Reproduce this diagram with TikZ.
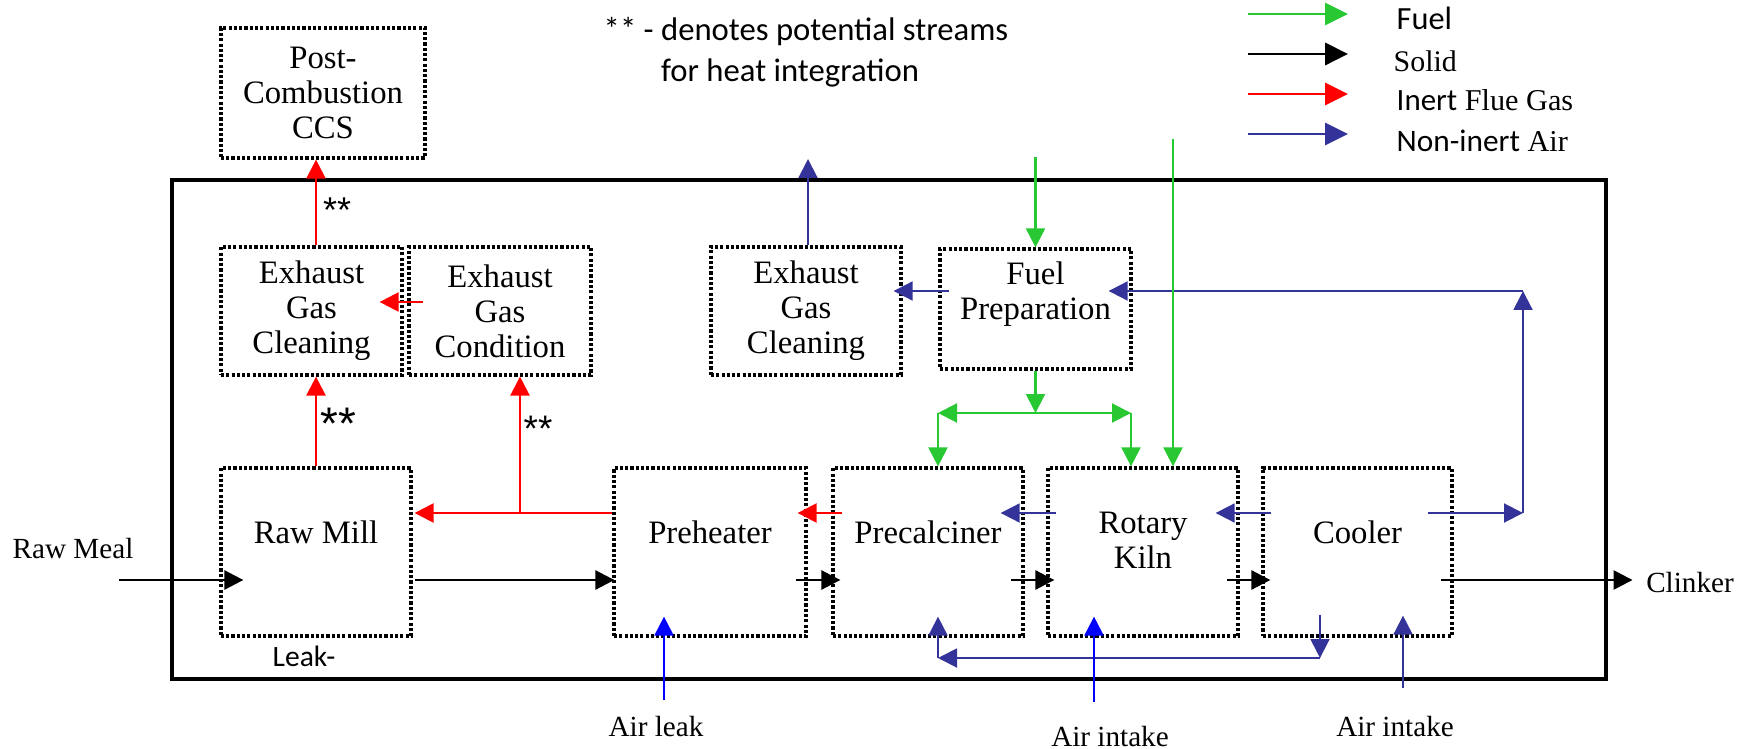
\documentclass[tikz,border=0pt]{standalone}
\usepackage{fontspec}
\setmainfont{Liberation Serif}
\newfontfamily\cali{Carlito}
\newfontfamily\arialfont{Liberation Sans}
\usetikzlibrary{arrows.meta, calc}

\definecolor{fuelgreen}{RGB}{40,200,50}
\definecolor{gasred}{RGB}{255,0,0}
\definecolor{airnavy}{RGB}{51,51,153}
\definecolor{leakblue}{RGB}{0,0,255}

\tikzset{
    unit/.style={draw, line width=0.9pt, dash pattern=on 0.9pt off 0.6pt,
        minimum width=1.9cm, minimum height=1.68cm, inner sep=0pt,
        align=center, font=\fontsize{9.3}{10}\selectfont},
    unittext/.style={align=center, inner sep=0pt, font=\fontsize{9.3}{10}\selectfont},
    outer/.style={inner sep=0pt, font=\fontsize{8.3}{10}\selectfont},
    heatmark/.style={inner sep=0pt, font=\arialfont\fontsize{10.2}{10}\selectfont},
    flow/.style={-{Triangle[length=5.4pt,width=5.4pt]}},
    keytip/.style={-{Triangle[length=6.5pt,width=6.3pt]}},
    solidline/.style={flow, draw=black, line width=0.75pt},
    gasline/.style={flow, draw=gasred, line width=0.7pt},
    fuelline/.style={flow, draw=fuelgreen, line width=0.6pt},
    airline/.style={flow, draw=airnavy, line width=0.55pt},
    leakline/.style={flow, draw=leakblue, line width=0.6pt}
}

\begin{document}
\begin{tikzpicture}[x=0.01cm, y=-0.01cm]
    \useasboundingbox (0,0) rectangle (1752,749);
    % plant boundary
    \draw[line width=1pt] (172,180) rectangle (1606,679);

    % units
    \node[unit, minimum width=2.04cm, minimum height=1.30cm] (ccs) at (323,93) {Post-\\Combustion\\CCS};
    \node[unit, minimum width=1.81cm, minimum height=1.28cm] (egc1) at (311.5,311) {Exhaust\\Gas\\Cleaning};
    \node[unit, minimum width=1.82cm, minimum height=1.28cm] (egcond) at (500,311) {Exhaust\\Gas\\Condition};
    \node[unit, minimum width=1.90cm, minimum height=1.28cm] (egc2) at (806,311) {Exhaust\\Gas\\Cleaning};
    \node[unit, minimum width=1.91cm, minimum height=1.20cm] (fuelprep) at (1035.5,309) {};
    \node[unittext] (fuelpreptext) at (1035.5,294.5) {Fuel\\Preparation};
    \node[unit] (mill) at (316,552) {};
    \node[unittext] (milltext) at (316,532) {Raw Mill};
    \node[unit, minimum width=1.92cm] (preheat) at (710,552) {};
    \node[unittext] (preheattext) at (710,532) {Preheater};
    \node[unit] (precalc) at (928,552) {};
    \node[unittext] (precalctext) at (928,532) {Precalciner};
    \node[unit] (kiln) at (1143,552) {};
    \node[unittext] (kilntext) at (1143,540.5) {Rotary\\Kiln};
    \node[unit, minimum width=1.89cm] (cooler) at (1357.5,552) {};
    \node[unittext] (coolertext) at (1357.5,532) {Cooler};

    % outside labels
    \node[outer] (rawmeal) at (73,549) {Raw Meal};
    \node[outer] (clinker) at (1690,583) {Clinker};
    \node[outer] (airleak) at (656,727) {Air leak};
    \node[outer] (kilnair) at (1110,737) {Air intake};
    \node[outer] (coolerair) at (1395,727) {Air intake};
    \node[inner sep=0pt, font=\cali\fontsize{8.4}{10}\selectfont] (leak) at (304,656) {Leak-};

    % heat integration marks
    \node[heatmark] (mark1) at (337,210) {**};
    \node[heatmark, font=\arialfont\fontsize{13}{13}\selectfont] (mark2) at (338,424) {**};
    \node[heatmark, font=\arialfont\fontsize{10.5}{10}\selectfont] (mark3) at (538,429) {**};
    \node[anchor=north west, inner sep=0pt, align=left, font=\cali\fontsize{9.3}{11.4}\selectfont]
        (note) at (603,17) {** - denotes potential streams\\\hphantom{** - }for heat integration};

    % legend
    \foreach \y/\sty/\nm in {14/fuelline/kfuel, 54/solidline/ksolid, 94/gasline/kgas, 134/airline/kair} {
        \coordinate (\nm a) at (1248,\y);
        \coordinate (\nm b) at (1348,\y);
        \draw[\sty, keytip] (\nm a) -- (\nm b);
    }
    \node[anchor=base west, inner sep=0pt, font=\cali\fontsize{9.2}{10}\selectfont] (kfueltext) at (1396,30) {Fuel};
    \node[anchor=base west, inner sep=0pt, font=\fontsize{8.5}{10}\selectfont] (ksolidtext) at (1393,72) {Solid};
    \node[anchor=base west, inner sep=0pt, font=\fontsize{8.6}{10}\selectfont] (kgastext) at (1396,111) {{\cali\fontsize{8.8}{10}\selectfont Inert} Flue Gas};
    \node[anchor=base west, inner sep=0pt, font=\fontsize{8.6}{10}\selectfont] (kairtext) at (1396,152) {{\cali\fontsize{8.9}{10}\selectfont Non-inert} Air};

    % solids
    \coordinate (feed) at (119,580);
    \draw[solidline] (feed) -- ($(mill.west)+(24,28)$);
    \draw[solidline] ($(mill.east)+(2,28)$) -- ($(preheat.west)+(2,28)$);
    \draw[solidline] ($(preheat.east)+(-12,28)$) -- ($(precalc.west)+(9,28)$);
    \draw[solidline] ($(precalc.east)+(-14,28)$) -- ($(kiln.west)+(8,28)$);
    \draw[solidline] ($(kiln.east)+(-13,28)$) -- ($(cooler.west)+(9,28)$);
    \draw[solidline] ($(cooler.east)+(-13,28)$) -- ($(clinker.west)+(-13,-3)$);

    % flue gas
    \draw[gasline] (egc1.north -| mill.north) -- (ccs.south -| mill.north);
    \draw[gasline] (mill.north) -- (egc1.south -| mill.north);
    \draw[gasline] ($(egcond.west)+(16,-9)$) -- ($(egc1.east)+(-24,-9)$);
    \draw[gasline] ($(preheat.west)+(0,-39)$) -- ($(mill.east)+(2,-39)$);
    \coordinate (gassplit) at (520,513);
    \draw[gasline] (gassplit) -- (gassplit |- egcond.south);
    \draw[gasline] ($(precalc.west)+(11,-39)$) -- ($(preheat.east)+(-10,-39)$);

    % air
    \coordinate (stackout) at (808,159);
    \draw[airline] (egc2.north -| stackout) -- (stackout);
    \draw[airline] ($(fuelprep.west)+(11,-18)$) -- ($(egc2.east)+(-9,-20)$);
    \draw[airline] ($(kiln.west)+(10,-39)$) -- ($(precalc.east)+(-24,-39)$);
    \draw[airline] ($(cooler.west)+(10,-39)$) -- ($(kiln.east)+(-24,-39)$);
    \coordinate (hotair) at (1523,513);
    \coordinate (hotairtop) at (1523,291);
    \draw[airline] ($(cooler.east)+(-26,-39)$) -- (hotair);
    \draw[airline] (hotair) -- (hotairtop);
    \draw[airline] (hotairtop) -- ($(fuelprep.east)+(-24,-18)$);
    \coordinate (tertiary) at (1320,658);
    \coordinate (tertiaryend) at (938,658);
    \draw[airline] ($(cooler.south)+(-37.5,-23)$) -- (tertiary);
    \draw[airline] (tertiary) -- (tertiaryend);
    \draw[airline] (tertiaryend) -- ($(precalc.south)+(10,-21)$);
    \coordinate (coolerairin) at (1403,688);
    \draw[airline] (coolerairin) -- ($(cooler.south)+(45.5,-22)$);

    % leaks
    \coordinate (leakin) at (664,700);
    \draw[leakline] (leakin) -- ($(preheat.south)+(-46,-21)$);
    \coordinate (kilnairin) at (1094,702);
    \draw[leakline] (kilnairin) -- ($(kiln.south)+(-49,-21)$);

    % fuel
    \coordinate (fuelin) at (1035.5,157);
    \draw[fuelline] (fuelin) -- (fuelprep.north);
    \coordinate (fuelsplit) at (1035.5,413);
    \coordinate (fuelleft) at (938,413);
    \coordinate (fuelright) at (1131,413);
    \draw[fuelline] (fuelprep.south) -- (fuelsplit);
    \draw[fuelline] (fuelsplit) -- (fuelleft);
    \draw[fuelline] (fuelsplit) -- (fuelright);
    \draw[fuelline] (fuelleft) -- (fuelleft |- precalc.north);
    \draw[fuelline] (fuelright) -- (fuelright |- kiln.north);
    \coordinate (kilnfuel) at (1173,139);
    \draw[fuelline] (kilnfuel) -- (kilnfuel |- kiln.north);
\end{tikzpicture}
\end{document}
